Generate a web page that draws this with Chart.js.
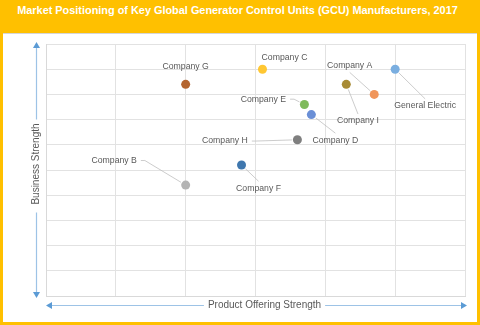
<!DOCTYPE html>
<html>
<head>
<meta charset="utf-8">
<script src="https://cdn.jsdelivr.net/npm/chart.js@4"></script>
<style>
  html, body { margin: 0; padding: 0; background: #fff; }
  #frame { position: relative; width: 480px; height: 325px; background: #FFC000; overflow: hidden; }
  #title { position: absolute; left: 0; top: 4px; width: 475px; text-align: center;
           font: bold 10.9px "Liberation Sans", Arial, sans-serif; color: #fff; }
  #panel { position: absolute; left: 3px; top: 33px; width: 474px; height: 288px;
           background: #fff; border-top: 1px solid #d6d6d6; }
  #wrap { position: absolute; left: 0; top: 0; width: 480px; height: 325px; }
</style>
</head>
<body>
<div id="frame">
  <div id="title">Market Positioning of Key Global Generator Control Units (GCU) Manufacturers, 2017</div>
  <div id="panel"></div>
  <div id="wrap"><canvas id="myChart" width="480" height="325"></canvas></div>
</div>
<script>
var companies = ["Company A", "Company B", "Company C", "Company D", "Company E",
                 "Company F", "Company G", "Company H", "Company I", "General Electric"];
var offering = [47, 20, 31, 38, 37, 28, 20, 36, 43, 50];   // product offering strength
var business = [80, 44, 90, 72, 76, 52, 84, 62, 84, 90];   // business strength
var colors = ["#F0955A", "#B4B4B4", "#FFC732", "#6A8FD6", "#7FBA5C",
              "#3F77AE", "#B4652F", "#7F7F7F", "#A88B35", "#7AAEE0"];

// where each label sits relative to its marker, and where its leader line starts
var labelPos = [
  { dx: -24.5, dy: -29,   leader: "bottom" },
  { dx: -71.5, dy: -24.6, leader: "right" },
  { dx: 22,    dy: -11.6, leader: null },
  { dx: 24,    dy: 25.6,  leader: "top" },
  { dx: -41,   dy: -5.3,  leader: "right" },
  { dx: 17,    dy: 23.3,  leader: "top" },
  { dx: 0,     dy: -17.6, leader: null },
  { dx: -72.5, dy: 1.3,   leader: "right" },
  { dx: 11.7,  dy: 36.7,  leader: "top" },
  { dx: 30,    dy: 36.7,  leader: "top" }
];

var points = [];
for (var i = 0; i < companies.length; i++) {
  points.push({ x: offering[i], y: business[i] });
}

var LABEL_FONT = '8.7px "Liberation Sans", Arial, sans-serif';
var TITLE_FONT = '10px "Liberation Sans", Arial, sans-serif';
var R = 4.5;

var companyLabels = {
  id: "companyLabels",
  beforeDatasetsDraw: function(chart) {
    var ctx = chart.ctx;
    var meta = chart.getDatasetMeta(0);
    ctx.save();
    ctx.font = LABEL_FONT;
    ctx.strokeStyle = "#BFBFBF";
    ctx.lineWidth = 0.8;
    meta.data.forEach(function(pt, i) {
      var p = labelPos[i];
      if (!p.leader) return;
      var tx = pt.x + p.dx, ty = pt.y + p.dy;
      var w = ctx.measureText(companies[i]).width;
      var ax, ay;
      ctx.beginPath();
      if (p.leader === "top") { ax = tx; ay = ty - 7; ctx.moveTo(ax, ay); }
      else if (p.leader === "bottom") { ax = tx; ay = ty + 7; ctx.moveTo(ax, ay); }
      else {
        ax = tx + w / 2 + 4; ay = ty;
        ctx.moveTo(ax, ay);
        ax += 4;
        ctx.lineTo(ax, ay);
      }
      var ddx = pt.x - ax, ddy = pt.y - ay;
      var len = Math.sqrt(ddx * ddx + ddy * ddy);
      var k = (len - R - 1) / len;
      ctx.lineTo(ax + ddx * k, ay + ddy * k);
      ctx.stroke();
    });
    ctx.restore();
  },
  afterDatasetsDraw: function(chart) {
    var ctx = chart.ctx;
    var meta = chart.getDatasetMeta(0);
    ctx.save();
    ctx.font = LABEL_FONT;
    ctx.fillStyle = "#595959";
    ctx.textAlign = "center";
    ctx.textBaseline = "middle";
    meta.data.forEach(function(pt, i) {
      ctx.fillText(companies[i], pt.x + labelPos[i].dx, pt.y + labelPos[i].dy);
    });
    ctx.restore();
  }
};

function arrowHead(ctx, x, y, dir) {
  // dir: 'up', 'down', 'left', 'right' — tip at (x, y)
  ctx.beginPath();
  ctx.moveTo(x, y);
  if (dir === "up") { ctx.lineTo(x - 3.5, y + 6); ctx.lineTo(x + 3.5, y + 6); }
  if (dir === "down") { ctx.lineTo(x - 3.5, y - 6); ctx.lineTo(x + 3.5, y - 6); }
  if (dir === "left") { ctx.lineTo(x + 6, y - 3.5); ctx.lineTo(x + 6, y + 3.5); }
  if (dir === "right") { ctx.lineTo(x - 6, y - 3.5); ctx.lineTo(x - 6, y + 3.5); }
  ctx.closePath();
  ctx.fill();
}

var axisArrows = {
  id: "axisArrows",
  afterDraw: function(chart) {
    var ctx = chart.ctx;
    var a = chart.chartArea;
    ctx.save();
    ctx.font = TITLE_FONT;
    ctx.textAlign = "center";
    ctx.textBaseline = "middle";

    // vertical: Business Strength
    var vx = a.left - 9.5;
    var vy = (a.top + a.bottom) / 2 - 6;
    var vText = "Business Strength";
    var vHalf = ctx.measureText(vText).width / 2 + 4;
    ctx.strokeStyle = "#9DC3E6";
    ctx.lineWidth = 1.2;
    ctx.beginPath();
    ctx.moveTo(vx, a.top + 2); ctx.lineTo(vx, vy - vHalf);
    ctx.moveTo(vx, vy + vHalf + 4); ctx.lineTo(vx, a.bottom - 2);
    ctx.stroke();
    ctx.fillStyle = "#5B9BD5";
    arrowHead(ctx, vx, a.top - 2, "up");
    arrowHead(ctx, vx, a.bottom + 2, "down");
    ctx.save();
    ctx.translate(vx, vy);
    ctx.rotate(-Math.PI / 2);
    ctx.fillStyle = "#595959";
    ctx.fillText(vText, 0, 0);
    ctx.restore();

    // horizontal: Product Offering Strength
    var hy = a.bottom + 9.5;
    var hx = (a.left + a.right) / 2 + 9;
    var hText = "Product Offering Strength";
    var hHalf = ctx.measureText(hText).width / 2 + 4;
    ctx.beginPath();
    ctx.moveTo(a.left + 4, hy); ctx.lineTo(hx - hHalf, hy);
    ctx.moveTo(hx + hHalf, hy); ctx.lineTo(a.right - 2, hy);
    ctx.stroke();
    ctx.fillStyle = "#5B9BD5";
    arrowHead(ctx, a.left, hy, "left");
    arrowHead(ctx, a.right + 2, hy, "right");
    ctx.fillStyle = "#595959";
    ctx.fillText(hText, hx, hy);
    ctx.restore();
  }
};

var ctx = document.getElementById("myChart");
var myChart = new Chart(ctx, {
  type: "scatter",
  data: {
    datasets: [{
      label: "Manufacturers",
      data: points,
      backgroundColor: colors,
      borderColor: colors,
      borderWidth: 0,
      pointRadius: R,
      pointHoverRadius: R
    }]
  },
  options: {
    responsive: false,
    animation: false,
    layout: { padding: { left: 46, right: 15, top: 44, bottom: 29 } },
    plugins: { legend: { display: false }, tooltip: { enabled: false } },
    scales: {
      x: {
        min: 0, max: 60,
        ticks: { display: false, stepSize: 10 },
        grid: { color: "#E2E2E2", drawTicks: false },
        border: { color: "#D9D9D9" },
        afterFit: function(s) { s.height = 0; }
      },
      y: {
        min: 0, max: 100,
        ticks: { display: false, stepSize: 10 },
        grid: { color: "#E2E2E2", drawTicks: false },
        border: { color: "#D9D9D9" },
        afterFit: function(s) { s.width = 0; }
      }
    }
  },
  plugins: [companyLabels, axisArrows]
});
</script>
</body>
</html>
